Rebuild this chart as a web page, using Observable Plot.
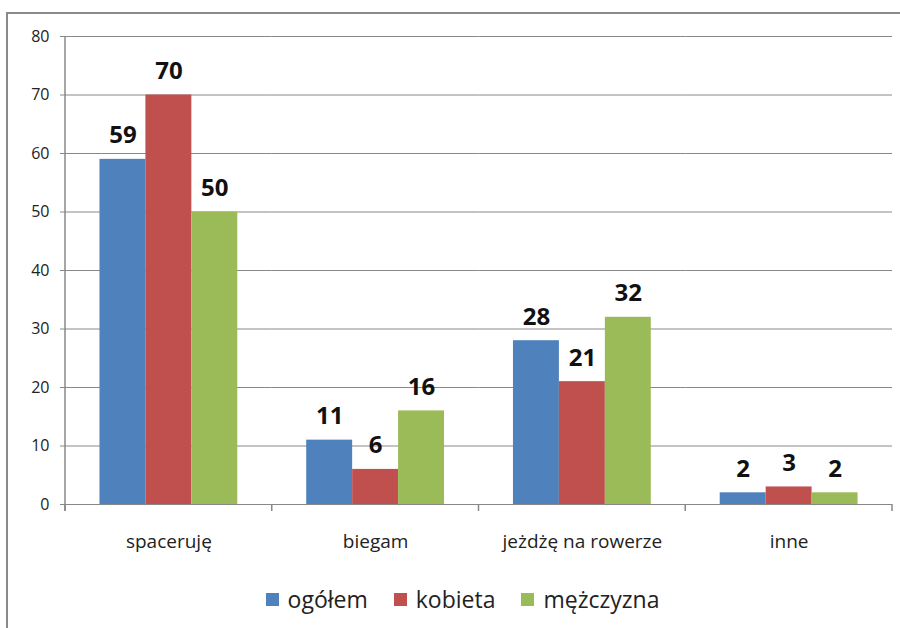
<!DOCTYPE html>
<html>
<head>
<meta charset="utf-8">
<script src="https://cdn.jsdelivr.net/npm/d3@7"></script>
<script src="https://cdn.jsdelivr.net/npm/@observablehq/plot@0.6"></script>
<style>
  body { margin: 0; background: #fff; font-family: "Open Sans", sans-serif; }
  #wrap { position: relative; width: 900px; height: 628px; overflow: hidden; background: #fff; }
  #border { position: absolute; left: 6px; top: 12px; right: -10px; bottom: -10px;
            border-top: 2px solid #8a8a8a; border-left: 2px solid #8a8a8a; }
  #chart { position: absolute; left: 0; top: 0; }
  #legend { position: absolute; top: 583px; left: 0; width: 900px; box-sizing: border-box;
            padding-left: 25px; display: flex; justify-content: center; align-items: center;
            font-family: "Open Sans", sans-serif; font-size: 23px; color: #222; }
  .item { display: flex; align-items: center; margin: 0 13px; }
  .sw { width: 13px; height: 13px; margin-right: 9px; }
</style>
</head>
<body>
<div id="wrap">
  <div id="border"></div>
  <div id="chart"></div>
  <div id="legend"></div>
</div>
<script>
const categories = ["spaceruję", "biegam", "jeżdżę na rowerze", "inne"];
const series = ["ogółem", "kobieta", "mężczyzna"];
const ogolem = [59, 11, 28, 2];
const kobieta = [70, 6, 21, 3];
const mezczyzna = [50, 16, 32, 2];
const colors = ["#4F81BD", "#C0504D", "#9BBB59"];
const yTicks = [0, 10, 20, 30, 40, 50, 60, 70, 80];

const seriesValues = [ogolem, kobieta, mezczyzna];
const data = categories.flatMap((c, i) =>
  series.map((s, j) => ({category: c, series: s, value: seriesValues[j][i]}))
);

const plot = Plot.plot({
  width: 900,
  height: 560,
  marginTop: 36,
  marginBottom: 56,
  marginLeft: 65,
  marginRight: 8,
  style: {fontFamily: "Open Sans, sans-serif", background: "transparent", color: "#222"},
  fx: {domain: categories, padding: 0, label: null, round: false},
  x: {domain: series, paddingInner: 0, paddingOuter: 0.75, round: false, axis: null},
  y: {domain: [0, 80], label: null, axis: null},
  color: {domain: series, range: colors},
  marks: [
    Plot.gridY(yTicks, {stroke: "#888", strokeOpacity: 1}),
    Plot.axisY(yTicks, {tickSize: 5, tickPadding: 11, fontSize: 16, stroke: "#888", fill: "#222"}),
    Plot.barY(data, {fx: "category", x: "series", y: "value", fill: "series"}),
    Plot.text(data, {fx: "category", x: "series", y: "value", text: d => String(d.value),
      dy: -16, lineAnchor: "bottom", fontSize: 24, fontWeight: "bold", fill: "#111"}),
    Plot.axisFx({anchor: "bottom", tickSize: 0, tickPadding: 30, fontSize: 19, fill: "#222", label: null})
  ]
});

document.getElementById("chart").appendChild(plot);

// y-axis line and category separator ticks, positioned with the plot's own scales
const fxS = plot.scale("fx");
const yS = plot.scale("y");
const svg = d3.select(plot.tagName.toLowerCase() === "svg" ? plot : plot.querySelector("svg"));
const y0 = yS.apply(0);
const yTop = yS.apply(yTicks[yTicks.length - 1]);
const bounds = categories.map(c => fxS.apply(c)).concat([fxS.apply(categories[categories.length - 1]) + fxS.bandwidth]);
const g = svg.append("g").attr("stroke", "#888").attr("stroke-width", 1.5);
g.append("line").attr("x1", bounds[0]).attr("x2", bounds[0]).attr("y1", yTop).attr("y2", y0 + 7);
bounds.forEach(b => g.append("line").attr("x1", b).attr("x2", b).attr("y1", y0).attr("y2", y0 + 7));

// legend
const leg = document.getElementById("legend");
series.forEach((s, i) => {
  const it = document.createElement("div");
  it.className = "item";
  const sw = document.createElement("div");
  sw.className = "sw";
  sw.style.background = plot.scale("color").apply(s);
  const t = document.createElement("span");
  t.textContent = s;
  it.appendChild(sw); it.appendChild(t);
  leg.appendChild(it);
});
</script>
</body>
</html>
